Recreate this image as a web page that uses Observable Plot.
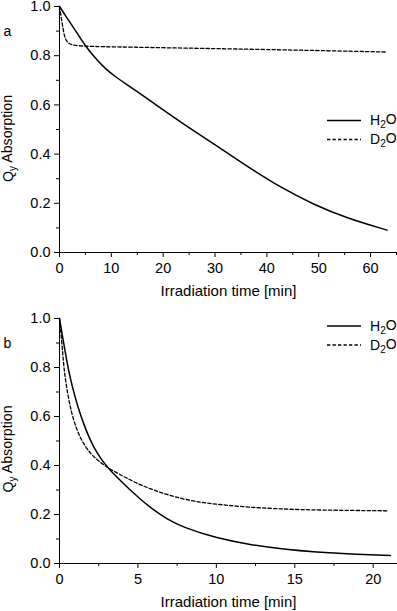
<!DOCTYPE html>
<html>
<head>
<meta charset="utf-8">
<script src="https://cdn.jsdelivr.net/npm/d3@7"></script>
<script src="https://cdn.jsdelivr.net/npm/@observablehq/plot@0.6"></script>
<style>
  html, body { margin: 0; padding: 0; background: #fff; }
  #chart svg { display: block; }
</style>
</head>
<body>
<div id="chart"></div>
<script>
// ---- Data ----
const seriesNames = ["H2O", "D2O"];
const panelLabels = ["a", "b"];
const xAxisTitle = "Irradiation time [min]";
const yAxisTitle = "Qy Absorption";

// Panel a
const timeA_H2O = [0, 1.7, 3.4, 4.9, 6.9, 8.8, 10.7, 12.7, 15.2, 18.5, 21.7, 24.3, 29.7, 36.2, 42.6, 49.0, 55.5, 63.2];
const absA_H2O  = [1.0, 0.945, 0.892, 0.842, 0.790, 0.748, 0.716, 0.687, 0.651, 0.602, 0.555, 0.517, 0.443, 0.350, 0.265, 0.195, 0.139, 0.091];
const timeA_D2O = [0, 0.42, 0.74, 1.06, 1.7, 3.0, 10, 24.3, 40, 50, 62.9];
const absA_D2O  = [1.0, 0.943, 0.903, 0.869, 0.849, 0.839, 0.836, 0.831, 0.825, 0.821, 0.815];

// Panel b
const timeB_H2O = [0, 0.24, 0.46, 0.67, 0.99, 1.31, 1.73, 2.16, 2.69, 3.22, 3.97, 4.4, 5.1, 5.78, 6.85, 7.9, 10.04, 12.16, 14.3, 16.4, 18.55, 21.1];
const absB_H2O  = [1.0, 0.909, 0.828, 0.760, 0.679, 0.611, 0.537, 0.476, 0.422, 0.381, 0.333, 0.306, 0.266, 0.229, 0.181, 0.147, 0.103, 0.076, 0.058, 0.046, 0.038, 0.033];
const timeB_D2O = [0, 0.14, 0.24, 0.35, 0.56, 0.78, 1.1, 1.52, 2.05, 2.69, 3.33, 4.18, 5.46, 7.9, 10.04, 12.16, 14.3, 16.4, 21.0];
const absB_D2O  = [1.0, 0.909, 0.828, 0.760, 0.679, 0.611, 0.544, 0.489, 0.442, 0.408, 0.381, 0.352, 0.310, 0.259, 0.241, 0.229, 0.222, 0.218, 0.215];

// Ticks
const yMajor = [0, 0.2, 0.4, 0.6, 0.8, 1.0];
const yMinor = [0.1, 0.3, 0.5, 0.7, 0.9];
const xMajorA = [0, 10, 20, 30, 40, 50, 60];
const xMinorA = [5, 15, 25, 35, 45, 55, 65];
const xMajorB = [0, 5, 10, 15, 20];
const xMinorB = [2.5, 7.5, 12.5, 17.5];
const xMaxA = 65.2;
const xMaxB = 21.55;

function rows(t, v, s) { return t.map((d, i) => ({t: d, v: v[i], s})); }

const FONT = "'Liberation Sans', Arial, Helvetica, sans-serif";
const DASH = "3.3,2.2";

function panel({h2o, d2o, xMax, xMajor, xMinor, height, marginTop, marginBottom, label, legendY, yTitleDy, xTitleDy}) {
  const svg = Plot.plot({
    width: 397,
    height,
    marginLeft: 59,
    marginRight: 0,
    marginTop,
    marginBottom,
    style: {fontFamily: FONT, fontSize: "14px", color: "#000", background: "#fff"},
    x: {domain: [0, xMax], label: null},
    y: {domain: [0, 1], label: null},
    marks: [
      Plot.axisY(yMajor, {tickSize: 5, tickPadding: 4, tickFormat: d3.format(".1f"), fontSize: 14.5, label: null}),
      Plot.axisY(yMinor, {tickSize: 3, fill: "none", label: null}),
      Plot.axisX(xMajor, {tickSize: 5, tickPadding: 5, tickFormat: d3.format("d"), fontSize: 14.5, label: null}),
      Plot.axisX(xMinor, {tickSize: 3, fill: "none", label: null}),
      Plot.ruleX([0], {stroke: "#000", strokeWidth: 1}),
      Plot.ruleY([0], {stroke: "#000", strokeWidth: 1}),
      Plot.line(d2o, {x: "t", y: "v", stroke: "#000", strokeWidth: 1.3, strokeDasharray: DASH, curve: "basis"}),
      Plot.line(h2o, {x: "t", y: "v", stroke: "#000", strokeWidth: 1.5, curve: "basis"}),
      Plot.text([xAxisTitle], {frameAnchor: "bottom", dy: xTitleDy, textAnchor: "middle", lineAnchor: "middle", fontSize: 15, fill: "#000"}),
      Plot.text([yAxisTitle], {frameAnchor: "left", dx: -51, dy: yTitleDy, rotate: -90, textAnchor: "middle", lineAnchor: "middle", fontSize: 14.2, fill: "#000"}),
      Plot.text([label], {frameAnchor: "top-left", dx: -52, dy: 25, textAnchor: "middle", lineAnchor: "middle", fontSize: 14, fill: "#000"})
    ]
  });

  // Subscript for Q_y
  svg.querySelectorAll("text").forEach(t => {
    if (t.textContent === yAxisTitle) {
      t.textContent = "";
      const sel = d3.select(t);
      sel.append("tspan").text("Q");
      sel.append("tspan").attr("font-size", "10px").attr("dy", "0.25em").text("y");
      sel.append("tspan").attr("dy", "-0.25em").text(" Absorption");
    }
  });

  // Legend
  const g = d3.select(svg).append("g")
    .attr("font-family", FONT).attr("font-size", 14).attr("text-anchor", "start");
  const styles = [{dash: null, w: 1.5}, {dash: DASH, w: 1.3}];
  seriesNames.forEach((name, i) => {
    const y = legendY + i * 19;
    g.append("line").attr("x1", 327).attr("x2", 361).attr("y1", y).attr("y2", y)
      .attr("stroke", "#000").attr("stroke-width", styles[i].w)
      .attr("stroke-dasharray", styles[i].dash);
    const txt = g.append("text").attr("x", 370).attr("y", y).attr("dy", "0.35em").attr("fill", "#000");
    txt.append("tspan").text(name[0]);
    txt.append("tspan").attr("font-size", "10px").attr("dy", "0.3em").text(name[1]);
    txt.append("tspan").attr("dy", "-0.3em").text(name[2]);
  });
  return svg;
}

const root = document.getElementById("chart");
root.appendChild(panel({
  h2o: rows(timeA_H2O, absA_H2O, "H2O"), d2o: rows(timeA_D2O, absA_D2O, "D2O"),
  xMax: xMaxA, xMajor: xMajorA, xMinor: xMinorA,
  height: 311, marginTop: 6, marginBottom: 59, label: panelLabels[0], legendY: 120.5,
  yTitleDy: 9, xTitleDy: 38.5
}));
root.appendChild(panel({
  h2o: rows(timeB_H2O, absB_H2O, "H2O"), d2o: rows(timeB_D2O, absB_D2O, "D2O"),
  xMax: xMaxB, xMajor: xMajorB, xMinor: xMinorB,
  height: 300, marginTop: 7, marginBottom: 48, label: panelLabels[1], legendY: 15,
  yTitleDy: 8, xTitleDy: 39
}));
</script>
</body>
</html>
